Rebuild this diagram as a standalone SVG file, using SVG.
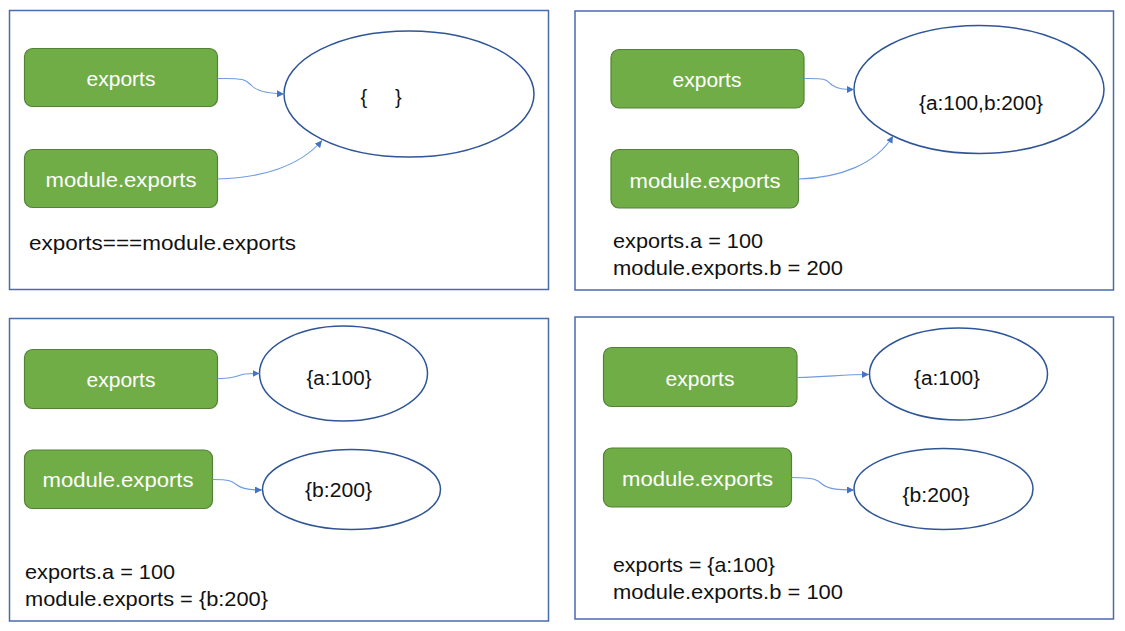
<svg xmlns="http://www.w3.org/2000/svg" width="1125" height="631" viewBox="0 0 1125 631">
  <style>
    .frame { fill: #ffffff; stroke: #4A6AAE; stroke-width: 1.5; }
    .box { fill: #70AD47; stroke: #538135; stroke-width: 1.2; }
    .boxtext { font-family: "Liberation Sans", Arial, sans-serif; font-size: 21px; fill: #ffffff; text-anchor: middle; }
    .obj { fill: #ffffff; stroke: #2F5597; stroke-width: 1.5; }
    .objtext { font-family: "Liberation Sans", Arial, sans-serif; font-size: 20px; fill: #111111; text-anchor: middle; }
    .label { font-family: "Liberation Sans", Arial, sans-serif; font-size: 21px; fill: #111111; }
    .conn { fill: none; stroke: #6F9BE0; stroke-width: 1.1; marker-end: url(#arrow); }
  </style>
  <defs>
    <marker id="arrow" markerUnits="userSpaceOnUse" markerWidth="8" markerHeight="8" refX="7" refY="3.5" orient="auto">
      <path d="M0,0 L7,3.5 L0,7 z" fill="#4472C4"/>
    </marker>
  </defs>
  <rect width="1125" height="631" fill="#ffffff"/>

  <!-- Panel 1 -->
  <g id="panel1">
    <rect class="frame" x="9.5" y="10.5" width="539" height="279"/>
    <g id="p1-exports">
      <rect class="box" x="24.5" y="48.5" width="193" height="58" rx="8"/>
      <text class="boxtext" x="121" y="86">exports</text>
    </g>
    <g id="p1-module-exports">
      <rect class="box" x="24.5" y="149.5" width="193" height="58" rx="8"/>
      <text class="boxtext" x="121" y="187" textLength="151" lengthAdjust="spacingAndGlyphs">module.exports</text>
    </g>
    <g id="p1-object">
      <ellipse class="obj" cx="409" cy="94" rx="125" ry="63"/>
      <text class="objtext" x="381" y="104" xml:space="preserve">{     }</text>
    </g>
    <text class="label" x="29" y="250" textLength="267" lengthAdjust="spacingAndGlyphs">exports===module.exports</text>
  </g>

  <!-- Panel 2 -->
  <g id="panel2">
    <rect class="frame" x="575" y="11" width="538.5" height="279"/>
    <g id="p2-exports">
      <rect class="box" x="611" y="49.5" width="193" height="58.5" rx="8"/>
      <text class="boxtext" x="707" y="87">exports</text>
    </g>
    <g id="p2-module-exports">
      <rect class="box" x="611" y="149.5" width="187.5" height="58.5" rx="8"/>
      <text class="boxtext" x="705" y="188" textLength="151" lengthAdjust="spacingAndGlyphs">module.exports</text>
    </g>
    <g id="p2-object">
      <ellipse class="obj" cx="979" cy="89.5" rx="125" ry="64"/>
      <text class="objtext" x="981" y="110" textLength="124" lengthAdjust="spacingAndGlyphs">{a:100,b:200}</text>
    </g>
    <text class="label" x="613" y="248" textLength="150" lengthAdjust="spacingAndGlyphs">exports.a = 100</text>
    <text class="label" x="613" y="275" textLength="230" lengthAdjust="spacingAndGlyphs">module.exports.b = 200</text>
  </g>

  <!-- Panel 3 -->
  <g id="panel3">
    <rect class="frame" x="9.5" y="318.5" width="539" height="302.5"/>
    <g id="p3-exports">
      <rect class="box" x="24.5" y="349.5" width="193" height="59" rx="8"/>
      <text class="boxtext" x="121" y="387">exports</text>
    </g>
    <g id="p3-module-exports">
      <rect class="box" x="24.5" y="450" width="188" height="58.5" rx="8"/>
      <text class="boxtext" x="118" y="487" textLength="151" lengthAdjust="spacingAndGlyphs">module.exports</text>
    </g>
    <g id="p3-objA">
      <ellipse class="obj" cx="343.5" cy="373.5" rx="84" ry="47.5"/>
      <text class="objtext" x="339" y="385" textLength="65" lengthAdjust="spacingAndGlyphs">{a:100}</text>
    </g>
    <g id="p3-objB">
      <ellipse class="obj" cx="351.5" cy="489.5" rx="89" ry="40"/>
      <text class="objtext" x="338.5" y="497" textLength="67" lengthAdjust="spacingAndGlyphs">{b:200}</text>
    </g>
    <text class="label" x="25" y="579" textLength="150" lengthAdjust="spacingAndGlyphs">exports.a = 100</text>
    <text class="label" x="25" y="606" textLength="243" lengthAdjust="spacingAndGlyphs">module.exports = {b:200}</text>
  </g>

  <!-- Panel 4 -->
  <g id="panel4">
    <rect class="frame" x="575" y="317" width="538.5" height="302"/>
    <g id="p4-exports">
      <rect class="box" x="603.5" y="347.5" width="193.5" height="59" rx="8"/>
      <text class="boxtext" x="700" y="386">exports</text>
    </g>
    <g id="p4-module-exports">
      <rect class="box" x="603.5" y="448" width="188" height="59" rx="8"/>
      <text class="boxtext" x="697.5" y="486" textLength="151" lengthAdjust="spacingAndGlyphs">module.exports</text>
    </g>
    <g id="p4-objA">
      <ellipse class="obj" cx="958.5" cy="374" rx="89" ry="46"/>
      <text class="objtext" x="947" y="385" textLength="66" lengthAdjust="spacingAndGlyphs">{a:100}</text>
    </g>
    <g id="p4-objB">
      <ellipse class="obj" cx="943.5" cy="489" rx="89.5" ry="40.5"/>
      <text class="objtext" x="936" y="502" textLength="67" lengthAdjust="spacingAndGlyphs">{b:200}</text>
    </g>
    <text class="label" x="613" y="572" textLength="162" lengthAdjust="spacingAndGlyphs">exports = {a:100}</text>
    <text class="label" x="613" y="599" textLength="230" lengthAdjust="spacingAndGlyphs">module.exports.b = 100</text>
  </g>

  <!-- Connectors -->
  <g id="connectors">
    <path class="conn" d="M217.5,78.5 C245,78 246,80 251,85 C256,91 266,93.5 284,94"/>
    <path class="conn" d="M217.5,179 C262,178 300,166 322,140.5"/>
    <path class="conn" d="M804,78.5 C828,78 826,80 832,85 C838,89 843,89.5 854,89.5"/>
    <path class="conn" d="M798.5,179 C840,178 876,164 893,136"/>
    <path class="conn" d="M217.5,378.5 C236,379 238,375 245,374 C250,373.5 254,373.5 259.5,373.5"/>
    <path class="conn" d="M212.5,479.5 C230,479.5 232,481 237,485 C242,489 250,490 262,490"/>
    <path class="conn" d="M797,377.5 C830,377 840,374.5 869,374.5"/>
    <path class="conn" d="M791.5,477.5 C815,477.5 818,480 822,484 C828,489 838,490 854,490"/>
  </g>
</svg>
